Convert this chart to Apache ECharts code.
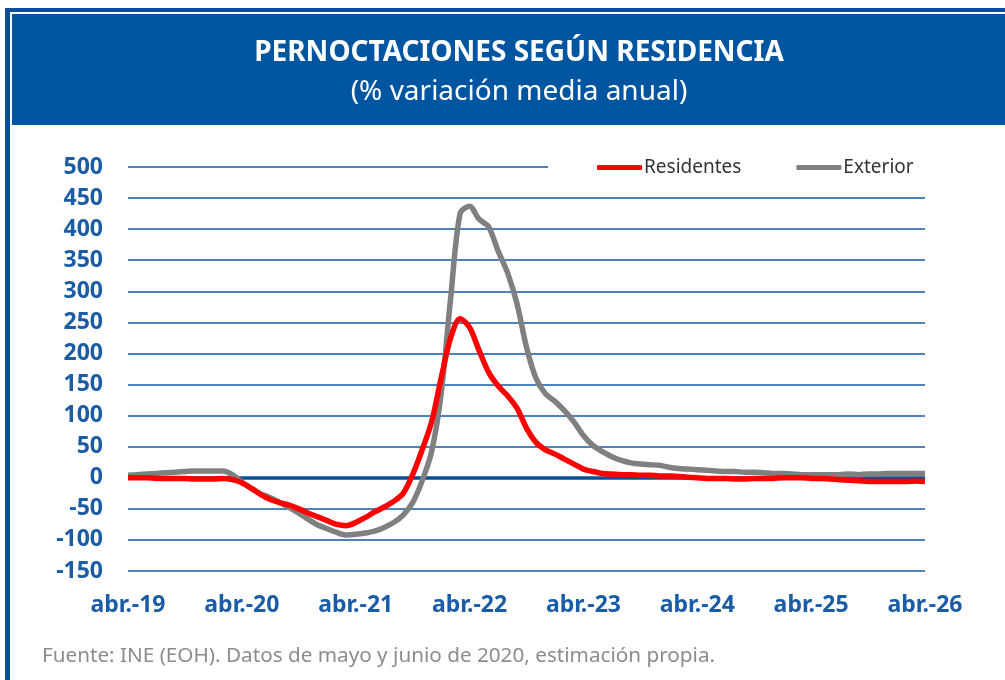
<!DOCTYPE html>
<html>
<head>
<meta charset="utf-8">
<script src="https://cdn.jsdelivr.net/npm/echarts@6/dist/echarts.min.js"></script>
<style>
  html, body { margin: 0; padding: 0; background: #fff; }
  #chart { width: 1005px; height: 680px; }
</style>
</head>
<body>
<div id="chart"></div>
<script>
// meses abr-2019 .. abr-2026
var months = [];
for (var y = 2019; y <= 2026; y++) {
  for (var m = 0; m < 12; m++) {
    if ((y === 2019 && m < 3) || (y === 2026 && m > 3)) continue;
    months.push(y + '-' + (m + 1));
  }
}

var residentes = [
  0, 0, 0, -1, -1, -1, -1, -2, -2, -2, -1, -3,
  -8, -17, -27, -35, -40, -44, -50, -57, -63, -69, -75, -77,
  -72, -64, -55, -47, -38, -25, 5, 45, 90, 160, 225, 256,
  242, 205, 170, 148, 132, 112, 80, 57, 45, 38, 30, 22,
  14, 10, 7, 6, 5, 5, 4, 4, 3, 3, 2, 1,
  0, -1, -1, -1, -2, -2, -1, -1, -1, 0, 0, 0,
  -1, -1, -2, -3, -4, -5, -6, -6, -6, -6, -6, -5,
  -6
];

var exterior = [
  4, 5, 6, 7, 8, 9, 10, 11, 11, 11, 11, 5,
  -7, -17, -26, -32, -40, -48, -57, -67, -76, -82, -88, -92,
  -91, -89, -86, -80, -72, -60, -40, -5, 42, 135, 288, 425,
  437, 416, 404, 365, 330, 280, 210, 160, 135, 123, 108, 90,
  68, 52, 42, 34, 28, 24, 22, 21, 20, 17, 15, 14,
  13, 12, 11, 10, 10, 9, 9, 8, 7, 7, 6, 5,
  5, 5, 5, 5, 6, 5, 6, 6, 7, 7, 7, 7,
  7
];

var blue = '#0055a0';
var labelBlue = '#1a5ca6';

var chart = echarts.init(document.getElementById('chart'));

var option = {
  backgroundColor: '#fff',
  animation: false,
  graphic: [
    // marco azul
    { type: 'rect', shape: { x: 5, y: 8, width: 1000, height: 4 }, style: { fill: '#0a4f96' }, z: 0 },
    { type: 'rect', shape: { x: 5, y: 8, width: 5, height: 672 }, style: { fill: '#0a4f96' }, z: 0 },
    // banda del titulo
    { type: 'rect', shape: { x: 12, y: 14, width: 993, height: 111 }, style: { fill: blue }, z: 0 },
    {
      type: 'text', left: 42, top: 646, z: 5,
      style: {
        text: 'Fuente: INE (EOH). Datos de mayo y junio de 2020, estimación propia.',
        font: '20.7px "Noto Sans"', fill: '#8c8c8c'
      }
    }
  ],
  title: {
    text: 'PERNOCTACIONES SEGÚN RESIDENCIA',
    subtext: '(% variación media anual)',
    left: 514,
    top: 34,
    textAlign: 'center',
    itemGap: 11,
    textStyle: { color: '#fff', fontFamily: 'Noto Sans', fontSize: 28, fontWeight: 'bold' },
    subtextStyle: { color: '#fff', fontFamily: 'Noto Sans', fontSize: 28 }
  },
  legend: {
    left: 548,
    top: 156,
    padding: [2, 14, 2, 49],
    backgroundColor: '#fff',
    itemWidth: 45,
    itemHeight: 5,
    itemGap: 55,
    z: 10,
    icon: 'roundRect',
    textStyle: { color: '#333', fontFamily: 'Noto Sans', fontSize: 19, padding: [0, 0, 0, -3] },
    data: ['Residentes', 'Exterior']
  },
  grid: { left: 128, right: 80, top: 167, bottom: 109 },
  xAxis: {
    type: 'category',
    data: months,
    boundaryGap: false,
    axisLine: { show: false },
    axisTick: { show: false },
    splitLine: { show: false },
    axisLabel: {
      interval: function (i) { return i % 12 === 0; },
      formatter: function (v) { return 'abr.-' + v.slice(2, 4); },
      color: labelBlue,
      fontFamily: 'Noto Sans',
      fontWeight: 'bold',
      fontSize: 23,
      margin: 23
    }
  },
  yAxis: {
    type: 'value',
    min: -150,
    max: 500,
    interval: 50,
    axisLine: { show: false },
    axisTick: { show: false },
    axisLabel: {
      color: labelBlue,
      fontFamily: 'Noto Sans',
      fontWeight: 'bold',
      fontSize: 23,
      margin: 25
    },
    splitLine: { lineStyle: { color: '#1259a3', width: 1.5 } }
  },
  series: [
    {
      name: 'Residentes',
      type: 'line',
      data: residentes,
      showSymbol: false,
      smooth: 0.3,
      z: 3,
      color: '#ff0000',
      lineStyle: { width: 5.5 },
      markLine: {
        silent: true,
        symbol: 'none',
        label: { show: false },
        lineStyle: { color: '#0a4f96', width: 3.5, type: 'solid' },
        data: [{ yAxis: 0 }],
        z: 1
      }
    },
    {
      name: 'Exterior',
      type: 'line',
      data: exterior,
      showSymbol: false,
      smooth: 0.3,
      z: 2,
      color: '#808080',
      lineStyle: { width: 5.5 }
    }
  ]
};

chart.setOption(option);
</script>
</body>
</html>
